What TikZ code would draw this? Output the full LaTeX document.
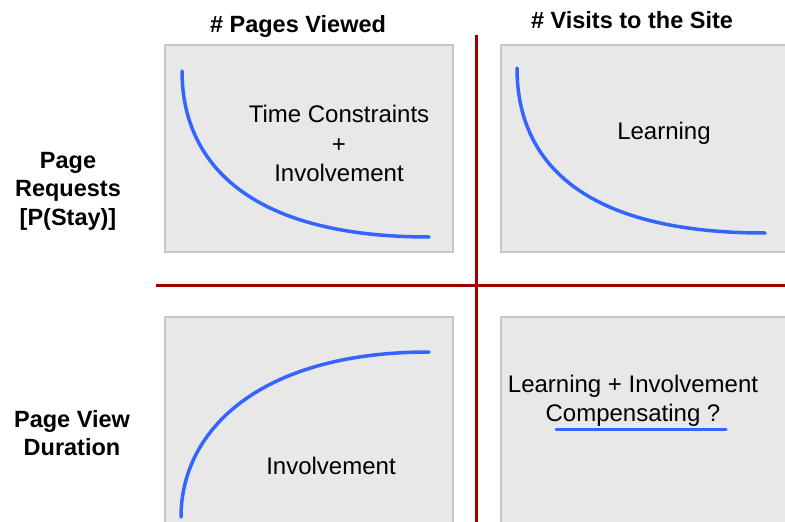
\documentclass[tikz,border=0pt]{standalone}
\usepackage{fontspec}
\setmainfont{Liberation Sans}
\usetikzlibrary{positioning}

\definecolor{panelgray}{HTML}{E8E8E8}
\definecolor{paneledge}{HTML}{C6C6C6}
\definecolor{axisred}{HTML}{A00000}
\definecolor{curveblue}{HTML}{3366FF}

\tikzset{
  panel/.style={fill=panelgray, draw=paneledge, line width=1.5pt},
  divider/.style={axisred, line width=3pt},
  trend/.style={curveblue, line width=3.5pt, line cap=round},
  colhead/.style={font=\fontsize{23.5}{27}\selectfont\bfseries},
  rowhead/.style={font=\fontsize{23.5}{28.5}\selectfont\bfseries, align=center},
  effect/.style={font=\fontsize{24}{29.5}\selectfont, align=center},
}

\begin{document}
\begin{tikzpicture}[x=1pt, y=-1pt]
  \clip (0,0) rectangle (785,522);
  \fill[white] (0,0) rectangle (785,522);

  % ── column and row headings ──
  \node[colhead, anchor=base] (pages)  at (298,32) {\# Pages Viewed};
  \node[colhead, anchor=base] (visits) at (632,28) {\# Visits to the Site};
  \node[rowhead] (requests) at (68,191) {Page\\Requests\\{[P(Stay)]}};
  \node[rowhead] (duration) at (72,433) {Page View\\Duration};

  % ── four panels ──
  \draw[panel] (165,45)  rectangle (453,252);
  \draw[panel] (501,45)  rectangle (800,252);
  \draw[panel] (165,317) rectangle (453,540);
  \draw[panel] (501,317) rectangle (800,540);

  % ── dividers ──
  \draw[divider] (476,35)  -- (476,530);
  \draw[divider] (156,285) -- (800,285);

  % ── trend curves ──
  \draw[trend] (182,71)  .. controls (182,160) and (245,237) .. (429,237);
  \draw[trend] (517,68)  .. controls (517,160) and (580,233) .. (765,233);
  \draw[trend] (181,517) .. controls (181,430) and (260,352) .. (429,352);

  % ── panel labels ──
  \node[effect] (constraints) at (339,143.5) {Time Constraints\\+\\Involvement};
  \node[effect, anchor=base] (learning) at (664,139) {Learning};
  \node[effect, anchor=base] (involve)  at (331,474) {Involvement};
  \node[effect, anchor=base] (both)     at (633,392) {Learning + Involvement};
  \node[effect, anchor=base] (compens)  at (633,421.5) {Compensating ?};
  \draw[curveblue, line width=3pt, line cap=round] (556,429) -- (726,429);
\end{tikzpicture}
\end{document}
